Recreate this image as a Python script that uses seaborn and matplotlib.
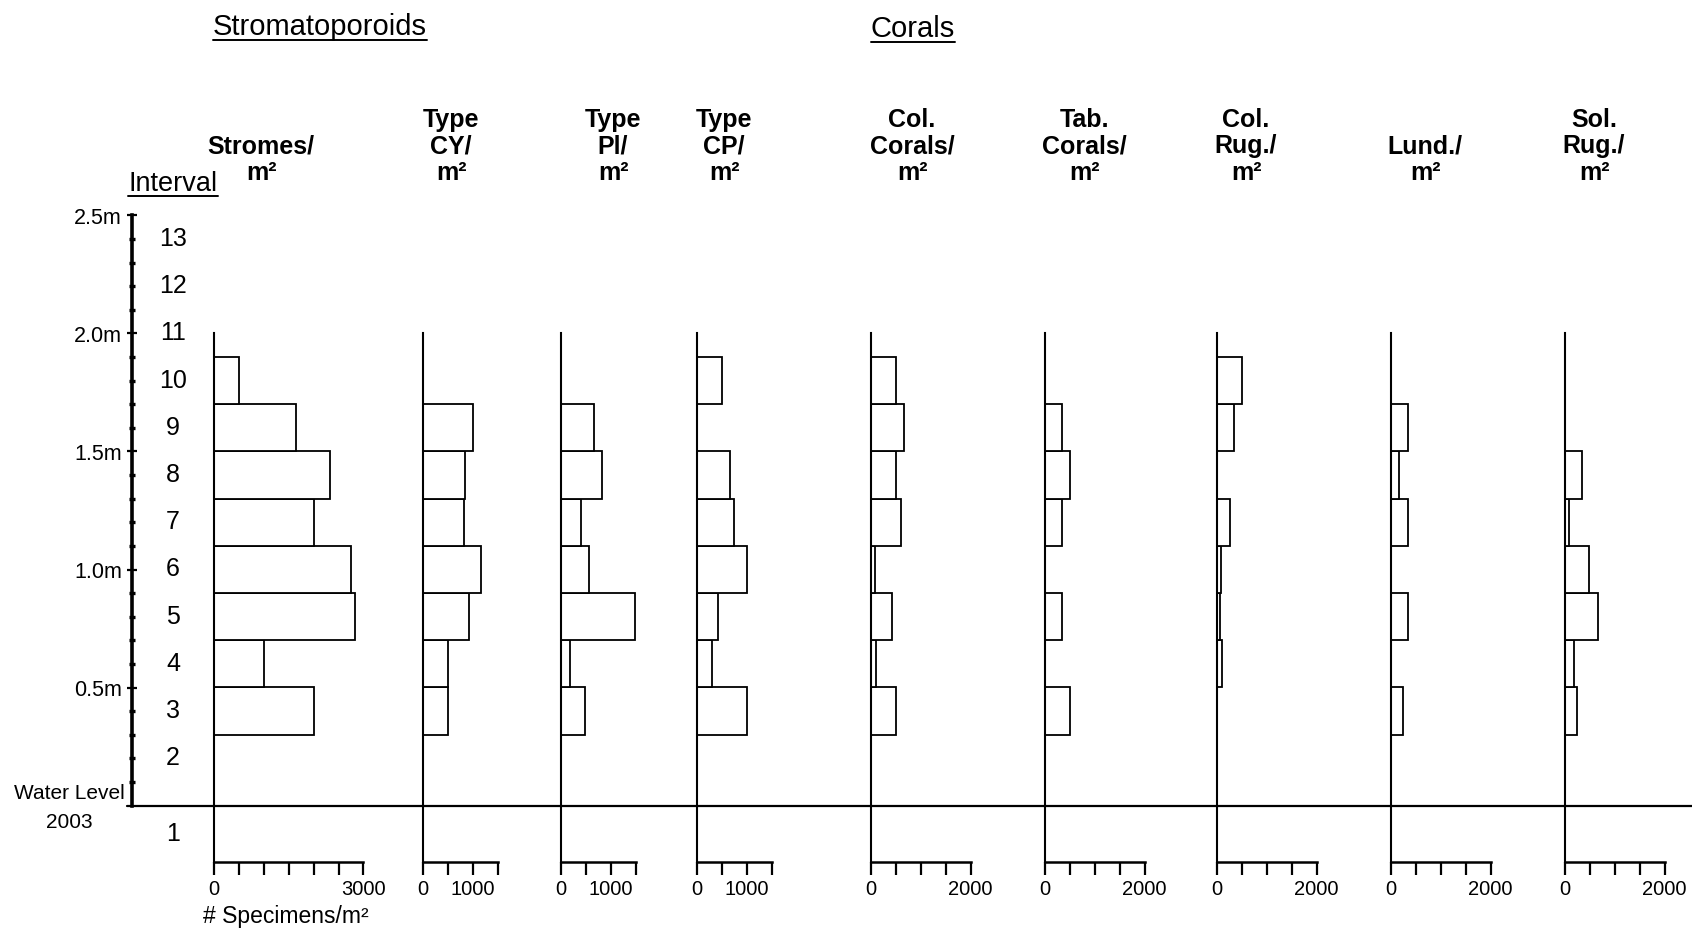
import numpy as np
import matplotlib
matplotlib.use("Agg")
import matplotlib.pyplot as plt
import seaborn as sns
from matplotlib.lines import Line2D
from matplotlib.ticker import FixedLocator

# ---------------- data ----------------
intervals = [3, 4, 5, 6, 7, 8, 9, 10]          # intervals with census data
stromes    = [2000, 1000, 2830, 2750, 2000, 2330, 1650, 500]
type_cy    = [510, 500, 920, 1170, 830, 840, 1000, 0]
type_pl    = [490, 190, 1490, 570, 410, 830, 660, 0]
type_cp    = [1000, 300, 420, 1000, 750, 670, 0, 500]
col_corals = [500, 107, 413, 80, 593, 500, 660, 500]
tab_corals = [500, 0, 340, 0, 333, 507, 333, 0]
col_rug    = [0, 100, 70, 87, 260, 0, 333, 500]
lund       = [240, 0, 333, 0, 333, 153, 333, 0]
sol_rug    = [247, 180, 653, 480, 73, 333, 0, 0]

all_intervals = list(range(1, 14))
depth_ticks = [0.5, 1.0, 1.5, 2.0, 2.5]
depth_labels = ["0.5m", "1.0m", "1.5m", "2.0m", "2.5m"]

headers = [["Stromes/", "m²"], ["Type", "CY/", "m²"], ["Type", "Pl/", "m²"],
           ["Type", "CP/", "m²"], ["Col.", "Corals/", "m²"], ["Tab.", "Corals/", "m²"],
           ["Col.", "Rug./", "m²"], ["Lund./", "m²"], ["Sol.", "Rug./", "m²"]]
series = [stromes, type_cy, type_pl, type_cp, col_corals, tab_corals, col_rug, lund, sol_rug]
xmaxs = [3000, 1500, 1500, 1500, 2000, 2000, 2000, 2000, 2000]
xlabels = [{0: "0", 3000: "3000"}] + [{0: "0", 1000: "1000"}] * 3 + [{0: "0", 2000: "2000"}] * 5

# ---------------- layout ----------------
sns.set_theme(style="white")
plt.rcParams["font.family"] = ["Liberation Sans", "DejaVu Sans"]

W, H, DPI = 1692, 930, 100
fig = plt.figure(figsize=(W / DPI, H / DPI), dpi=DPI)
fig.patch.set_facecolor("white")

Y0 = 805.5      # pixel row of 0 m (water level)
PXM = 236.0     # pixels per metre
DMIN, DMAX = -0.24, 2.6
PXU = 0.0498    # pixels per specimen/m2


def yf(d):
    return (H - (Y0 - PXM * d)) / H


def fx(px):
    return px / W


def fyp(py):
    return 1 - py / H


ab, ah = yf(DMIN), yf(DMAX) - yf(DMIN)

# background axes (x in pixels, y in metres)
bg = fig.add_axes([0, ab, 1, ah])
bg.set_xlim(0, W)
bg.set_ylim(DMIN, DMAX)
bg.axis("off")
bg.axhline(0, xmin=127 / W, xmax=1, color="black", lw=1.6, zorder=1)

for k in all_intervals:
    d = -0.12 if k == 1 else 0.2 * (k - 1)
    bg.text(173, d, str(k), ha="center", va="center", fontsize=18, color="black")
bg.text(69, 0.05, "Water Level", ha="center", va="center", fontsize=15, color="black")
bg.text(69, -0.07, "2003", ha="center", va="center", fontsize=15, color="black")

# depth scale
dax = fig.add_axes([fx(132), ab, 0.02, ah])
dax.patch.set_visible(False)
dax.set_ylim(DMIN, DMAX)
dax.set_xlim(0, 1)
for s in ["top", "right", "bottom"]:
    dax.spines[s].set_visible(False)
dax.spines["left"].set_bounds(0, 2.5)
dax.spines["left"].set_linewidth(2.6)
dax.spines["left"].set_color("black")
dax.set_xticks([])
dax.set_yticks(depth_ticks)
dax.set_yticklabels(depth_labels)
minor = [round(0.1 * i, 1) for i in range(1, 25) if i % 5 != 0]
dax.yaxis.set_minor_locator(FixedLocator(minor))
dax.tick_params(axis="y", which="major", direction="inout", length=7.5, width=1.6,
                pad=3.5, labelsize=15.5, colors="black", left=True)
dax.tick_params(axis="y", which="minor", direction="inout", length=4.0, width=2.4,
                colors="black", left=True)

# panels
panel_x0 = [214, 423, 561, 697, 871, 1045, 1217, 1391, 1565]
depth = [0.2 * (k - 1) for k in intervals]
axes = []
for i, vals in enumerate(series):
    xmax = xmaxs[i]
    ax = fig.add_axes([fx(panel_x0[i]), ab, xmax * PXU / W, ah])
    ax.patch.set_visible(False)
    sns.barplot(x=vals, y=depth, orient="y", native_scale=True, width=1.0,
                color="white", edgecolor="black", linewidth=1.3, saturation=1,
                errorbar=None, ax=ax)
    ax.set_xlim(0, xmax)
    ax.set_ylim(DMIN, DMAX)
    ax.set_xlabel("")
    ax.set_ylabel("")
    ax.set_yticks([])
    ticks = list(range(0, xmax + 1, 500))
    ax.set_xticks(ticks)
    ax.set_xticklabels([xlabels[i].get(t, "") for t in ticks])
    ax.tick_params(axis="x", direction="out", length=9.5, width=1.6, pad=3,
                   labelsize=14.5, colors="black", bottom=True)
    for s in ["top", "right"]:
        ax.spines[s].set_visible(False)
    ax.spines["left"].set_bounds(DMIN, 2.0)
    ax.spines["left"].set_linewidth(1.5)
    ax.spines["bottom"].set_linewidth(1.8)
    ax.spines["left"].set_color("black")
    ax.spines["bottom"].set_color("black")
    axes.append(ax)

# headers
hx = [261, 451, 613, 724, 912, 1084, 1246, 1425, 1594]
for i, lines in enumerate(headers):
    for j, line in enumerate(reversed(lines)):
        fig.text(fx(hx[i]), fyp(173 - 26.5 * j), line, ha="center", va="center",
                 fontsize=18, fontweight="bold", color="black")

titles = []
titles.append(fig.text(fx(320), fyp(27), "Stromatoporoids", ha="center", va="center",
                       fontsize=21, color="black"))
titles.append(fig.text(fx(913), fyp(29), "Corals", ha="center", va="center",
                       fontsize=21, color="black"))
titles.append(fig.text(fx(173), fyp(184), "Interval", ha="center", va="center",
                       fontsize=19.5, color="black"))
fig.text(fx(286), fyp(916), "# Specimens/m²", ha="center", va="center",
         fontsize=16.5, color="black")

fig.canvas.draw()
r = fig.canvas.get_renderer()
for t in titles:
    bb = t.get_window_extent(r)
    y = (bb.y0 + 1) / H
    fig.add_artist(Line2D([bb.x0 / W, bb.x1 / W], [y, y], transform=fig.transFigure,
                          color="black", lw=1.4))

fig.savefig("out.png", dpi=DPI, facecolor="white")
